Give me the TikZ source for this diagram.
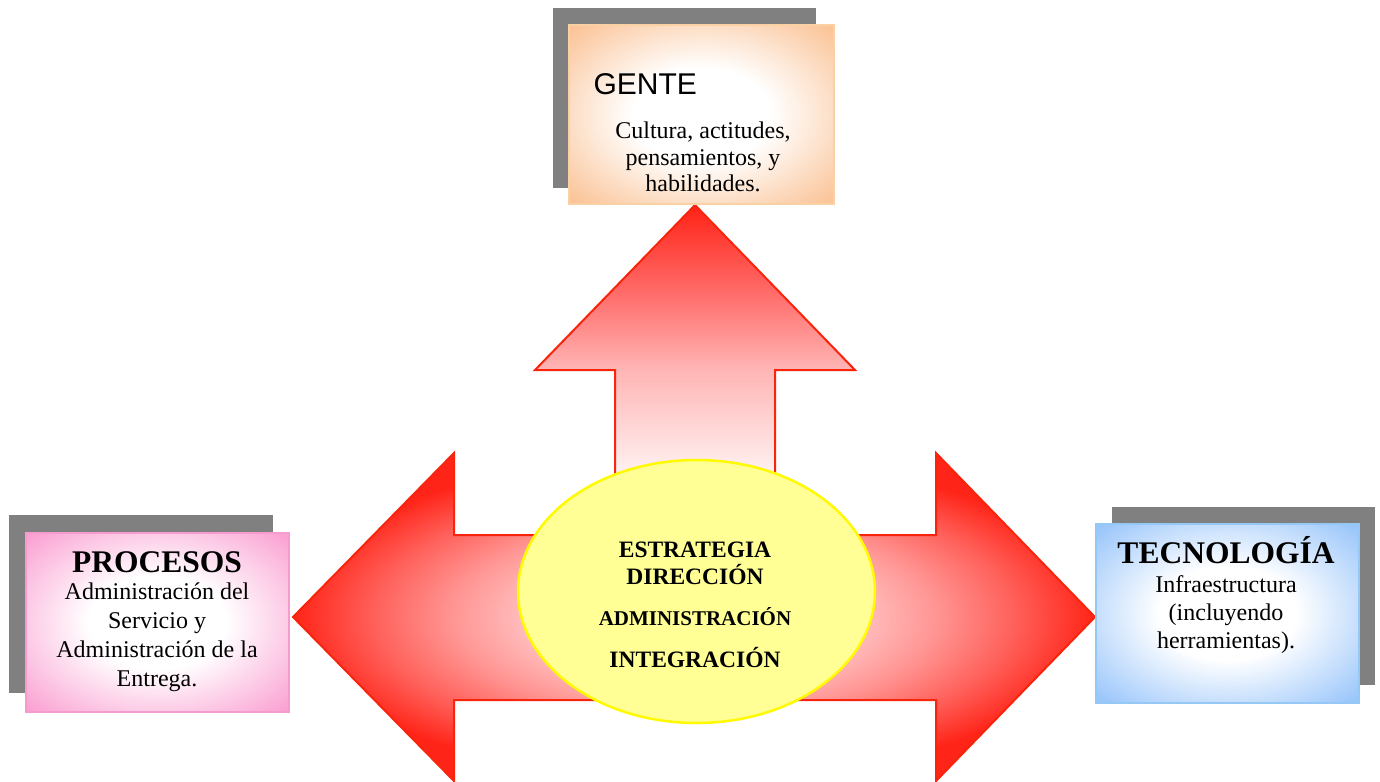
\documentclass[tikz,border=0pt]{standalone}
\usepackage{fontspec}
\setmainfont{Liberation Serif}
\newfontfamily\arialfont{Liberation Sans}
\usetikzlibrary{shapes.geometric}

% palette
\definecolor{arrowline}{RGB}{248,36,12}
\definecolor{hc0}{RGB}{255,208,208}
\definecolor{hc1}{RGB}{255,194,194}
\definecolor{hc2}{RGB}{255,150,148}
\definecolor{hc3}{RGB}{255,96,90}
\definecolor{hc4}{RGB}{255,36,24}
\definecolor{vc0}{RGB}{255,250,250}
\definecolor{vc1}{RGB}{255,238,238}
\definecolor{vc2}{RGB}{255,180,180}
\definecolor{vc3}{RGB}{255,112,110}
\definecolor{vc4}{RGB}{255,34,22}
\definecolor{corefill}{RGB}{255,255,150}
\definecolor{coreline}{RGB}{255,250,0}
\definecolor{shadowgray}{RGB}{128,128,128}
\definecolor{peach}{RGB}{250,188,138}
\definecolor{peachline}{RGB}{250,208,165}
\definecolor{rosa}{RGB}{250,150,205}
\definecolor{rosaline}{RGB}{245,155,205}
\definecolor{celeste}{RGB}{140,190,250}
\definecolor{celesteline}{RGB}{150,200,245}

% shadings
\pgfdeclareradialshading{hglow}{\pgfpointorigin}{color(0bp)=(hc0); color(10bp)=(hc1); color(15bp)=(hc2); color(20bp)=(hc3); color(25bp)=(hc4); color(50bp)=(hc4)}
\pgfdeclareverticalshading{vglow}{100bp}{color(0bp)=(vc0); color(25bp)=(vc0); color(38bp)=(vc1); color(52bp)=(vc2); color(62bp)=(vc3); color(75bp)=(vc4); color(100bp)=(vc4)}
\pgfdeclareradialshading{peachglow}{\pgfpointorigin}{color(0bp)=(white); color(13bp)=(white); color(37bp)=(peach); color(50bp)=(peach)}
\pgfdeclareradialshading{rosaglow}{\pgfpointorigin}{color(0bp)=(white); color(13bp)=(white); color(37bp)=(rosa); color(50bp)=(rosa)}
\pgfdeclareradialshading{celesteglow}{\pgfpointorigin}{color(0bp)=(white); color(13bp)=(white); color(37bp)=(celeste); color(50bp)=(celeste)}

\tikzset{
  bigarrow/.style={draw=arrowline, line width=2pt, line join=miter},
  panel/.style={rectangle, inner sep=0pt, line width=2pt, anchor=north west},
  shadowbox/.style={fill=shadowgray},
  bodytext/.style={anchor=base, font=\fontsize{24}{28}\selectfont},
  titletext/.style={anchor=base, font=\fontsize{31.5}{36}\selectfont\bfseries},
  coretext/.style={anchor=base, font=\fontsize{23.5}{27}\selectfont\bfseries},
}

\begin{document}
\begin{tikzpicture}[x=1pt,y=-1pt]
\useasboundingbox (0,0) rectangle (1380,781);
\fill[white] (0,0) rectangle (1380,781);

% upward arrow
\path[bigarrow, shading=vglow]
  (695,205) -- (855,370) -- (775,370) -- (775,560) -- (615,560) -- (615,370) -- (535,370) -- cycle;

% double arrow, left and right
\path[bigarrow, shading=hglow]
  (293,617) -- (454,453) -- (454,535) -- (936,535) -- (936,453) -- (1095,617)
  -- (936,781) -- (936,700) -- (454,700) -- (454,781) -- cycle;

% central ellipse
\node[ellipse, draw=coreline, fill=corefill, line width=2.5pt, inner sep=0pt,
      minimum width=357pt, minimum height=263pt] (core) at (696.5,591.5) {};
\node[coretext] (c1) at (695,557) {ESTRATEGIA};
\node[coretext] (c2) at (695,584) {DIRECCIÓN};
\node[coretext, font=\fontsize{21}{25}\selectfont\bfseries] (c3) at (695,625) {ADMINISTRACIÓN};
\node[coretext] (c4) at (695,667) {INTEGRACIÓN};

% GENTE panel
\fill[shadowbox] (553,8) rectangle (816,188);
\node[panel, draw=peachline, shading=peachglow, minimum width=265pt, minimum height=179pt] (gente) at (568,24) {};
\node[anchor=base west, font=\fontsize{30}{34}\selectfont\arialfont] (gt) at (590,95) {GENTE};
\node[bodytext] (g1) at (703,138) {Cultura, actitudes,};
\node[bodytext] (g2) at (703,165) {pensamientos, y};
\node[bodytext] (g3) at (703,191) {habilidades.};

% PROCESOS panel
\fill[shadowbox] (9,515) rectangle (273,693);
\node[panel, draw=rosaline, shading=rosaglow, minimum width=263pt, minimum height=179pt] (procesos) at (25,532) {};
\node[titletext] (pt) at (157,572) {PROCESOS};
\node[bodytext] (p1) at (157,599) {Administración del};
\node[bodytext] (p2) at (157,628) {Servicio y};
\node[bodytext] (p3) at (157,657) {Administración de la};
\node[bodytext] (p4) at (157,686) {Entrega.};

% TECNOLOGIA panel
\fill[shadowbox] (1112,507) rectangle (1375,685);
\node[panel, draw=celesteline, shading=celesteglow, minimum width=263pt, minimum height=179pt] (tecno) at (1095,523) {};
\node[titletext] (tt) at (1226,563) {TECNOLOGÍA};
\node[bodytext] (t1) at (1226,592) {Infraestructura};
\node[bodytext] (t2) at (1226,620) {(incluyendo};
\node[bodytext] (t3) at (1226,648) {herramientas).};
\end{tikzpicture}
\end{document}
